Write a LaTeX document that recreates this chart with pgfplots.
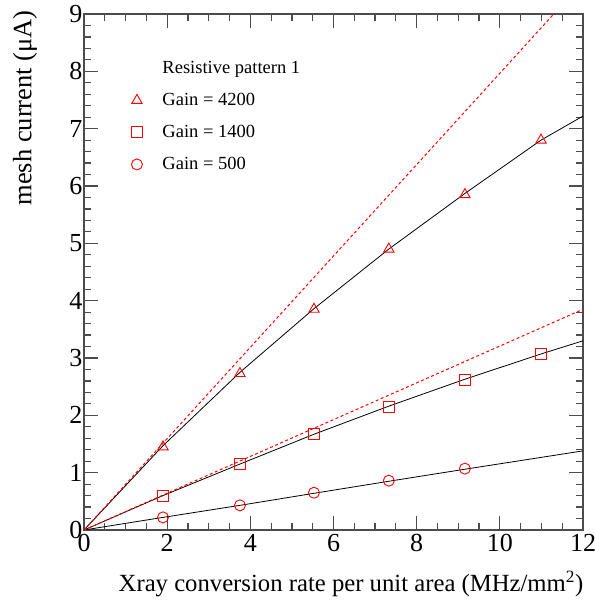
\documentclass[border=0pt]{standalone}
\usepackage{fontspec}
\setmainfont{Liberation Serif}
\usepackage{pgfplots}
\pgfplotsset{compat=1.18}
\begin{document}
\begin{tikzpicture}
\begin{axis}[
 scale only axis, width=499pt, height=516pt,
 xmin=0,xmax=12,ymin=0,ymax=9,
 xtick={0,2,...,12}, ytick={0,1,...,9},
 minor x tick num=3, minor y tick num=4,
 tick align=inside,
 major tick length=14pt, minor tick length=7pt,
 axis line style={black!70, line width=1.4pt},
 every tick/.style={black!70, line width=1.2pt},
 tick label style={font=\fontsize{26}{30}\selectfont},
 xticklabel style={yshift=-1pt},
 yticklabel style={xshift=2pt},
 /pgf/number format/assume math mode=true,
 xlabel style={font=\fontsize{24.7}{30}\selectfont, at={(axis description cs:0.535,-0.104)}, anchor=center},
 ylabel style={font=\fontsize{26.5}{32}\selectfont, at={(axis description cs:-0.118,0.818)}, anchor=center},
 xlabel={Xray conversion rate per unit area (MHz/mm\textsuperscript{2})},
 ylabel={mesh current (μA)},
 legend style={draw=none, fill=none, inner sep=0pt, outer sep=0pt,
   at={(rel axis cs:0.089,0.91)}, anchor=north west,
   font=\fontsize{18.5}{22}\selectfont, column sep=20pt, row sep=16pt,
   nodes={inner sep=0pt, text height=13pt, text depth=3pt, anchor=west}},
 legend cell align=left,
]
\addlegendimage{empty legend}
\addlegendentry{Resistive pattern 1}
% black fit curves
\addplot[black, line width=0.8pt, forget plot] coordinates {(0,0) (1.9,1.47) (3.75,2.75) (5.53,3.86) (7.33,4.9) (9.16,5.87) (10.99,6.8) (12,7.22)};
\addplot[black, line width=0.8pt, forget plot] coordinates {(0,0) (1.9,0.6) (3.75,1.15) (5.53,1.67) (7.33,2.16) (9.16,2.63) (10.99,3.07) (12,3.3)};
\addplot[black, line width=0.8pt, forget plot] coordinates {(0,0) (1.9,0.22) (3.75,0.43) (5.53,0.64) (7.33,0.85) (9.16,1.06) (12,1.38)};
% red dashed
\addplot[red, line width=1pt, dash pattern=on 3pt off 2.5pt, forget plot] coordinates {(0,0) (12,9.56)};
\addplot[red, line width=1pt, dash pattern=on 3pt off 2.5pt, forget plot] coordinates {(0,0) (12,3.85)};
% data points
\addplot[only marks, mark=triangle, mark size=6pt, mark options={red, line width=0.9pt, solid}] coordinates {(1.9,1.45) (3.75,2.73) (5.53,3.85) (7.33,4.9) (9.16,5.85) (10.99,6.8)};
\addlegendentry{Gain = 4200}
\addplot[only marks, mark=square, mark size=5.5pt, mark options={red, line width=0.9pt, solid}] coordinates {(1.9,0.6) (3.75,1.15) (5.53,1.67) (7.33,2.15) (9.16,2.62) (10.99,3.07)};
\addlegendentry{Gain = 1400}
\addplot[only marks, mark=o, mark size=5.5pt, mark options={red, line width=0.9pt, solid}] coordinates {(1.9,0.22) (3.75,0.43) (5.53,0.65) (7.33,0.86) (9.16,1.07)};
\addlegendentry{Gain = 500}
\end{axis}
\pgfresetboundingbox
\path ([shift={(-84pt,-73pt)}]current axis.south west) rectangle ([shift={(11pt,14pt)}]current axis.north east);
\end{tikzpicture}
\end{document}
